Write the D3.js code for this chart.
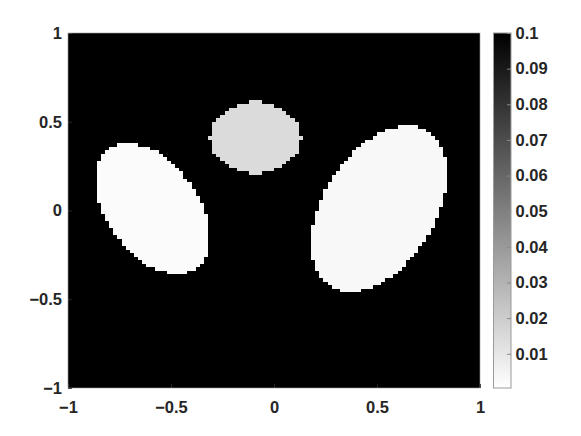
<!DOCTYPE html>
<html>
<head>
<meta charset="utf-8">
<script src="https://cdn.jsdelivr.net/npm/d3@7"></script>
<style>
  body { margin: 0; background: #fff; }
  text { font-family: "Liberation Sans", Arial, Helvetica, sans-serif; font-weight: bold; }
</style>
</head>
<body>
<svg id="my-svg"></svg>
<script>
// image grid (cells per side) and axis ticks
var gridSize = 100;
var xTicks = [-1, -0.5, 0, 0.5, 1];
var yTicks = [-1, -0.5, 0, 0.5, 1];
var cbarTicks = [0.01, 0.02, 0.03, 0.04, 0.05, 0.06, 0.07, 0.08, 0.09, 0.1];

// the three ellipses of the phantom
var ellipseCx    = [-0.09, -0.59, 0.51];
var ellipseCy    = [0.41, 0.01, 0.01];
var ellipseA     = [0.221, 0.40, 0.50];   // semi axis along rotated x
var ellipseB     = [0.201, 0.23, 0.28];   // semi axis along rotated y
var ellipseAngle = [0, -62, 65];          // degrees
var ellipseValue = [0.0145, 0.002, 0.003];

var backgroundValue = 0.1;
var valueMin = 0.0004;

var width = 581;
var height = 436;
var plot = {left: 68, right: 480, top: 33, bottom: 388};
var cbar = {left: 493.5, right: 511};

var svg = d3.select('#my-svg')
  .attr('width', width)
  .attr('height', height);

var x = d3.scaleLinear().domain([-1, 1]).range([plot.left, plot.right]);
var y = d3.scaleLinear().domain([-1, 1]).range([plot.bottom, plot.top]);
var color = d3.scaleLinear().domain([valueMin, backgroundValue]).range(['#ffffff', '#000000']);

// build the cell table
var step = 2 / gridSize;
var cells = [];
for (var j = 0; j < gridSize; j++) {
  for (var i = 0; i < gridSize; i++) {
    var cx = -1 + (i + 0.5) * step;
    var cy = 1 - (j + 0.5) * step;
    var v = backgroundValue;
    for (var k = 0; k < ellipseCx.length; k++) {
      var t = ellipseAngle[k] * Math.PI / 180;
      var dx = cx - ellipseCx[k], dy = cy - ellipseCy[k];
      var u = dx * Math.cos(t) + dy * Math.sin(t);
      var w = -dx * Math.sin(t) + dy * Math.cos(t);
      if ((u * u) / (ellipseA[k] * ellipseA[k]) + (w * w) / (ellipseB[k] * ellipseB[k]) <= 1) v = ellipseValue[k];
    }
    cells.push({x0: -1 + i * step, y0: 1 - j * step, value: v});
  }
}

svg.append('g')
    .attr('shape-rendering', 'crispEdges')
  .selectAll('rect')
  .data(cells)
  .enter().append('rect')
    .attr('x', d => x(d.x0))
    .attr('y', d => y(d.y0))
    .attr('width', x(step) - x(0))
    .attr('height', y(0) - y(step))
    .attr('fill', d => color(d.value));

// axes
var xAxis = svg.append('g')
    .attr('transform', 'translate(0,' + plot.bottom + ')')
    .call(d3.axisBottom(x).tickValues(xTicks).tickFormat(d3.format('')).tickSize(-4).tickPadding(13));
var yAxis = svg.append('g')
    .attr('transform', 'translate(' + plot.left + ',0)')
    .call(d3.axisLeft(y).tickValues(yTicks).tickFormat(d3.format('')).tickSize(-4).tickPadding(6));

[xAxis, yAxis].forEach(function(a) {
  a.select('.domain').remove();
  a.selectAll('line').attr('stroke', '#262626');
  a.selectAll('text').attr('font-size', 16.5).attr('fill', '#262626');
});

svg.append('rect')
    .attr('x', plot.left)
    .attr('y', plot.top)
    .attr('width', plot.right - plot.left)
    .attr('height', plot.bottom - plot.top)
    .attr('fill', 'none')
    .attr('stroke', '#9a9a9a')
    .attr('stroke-width', 0.6);

// colorbar
var cy = d3.scaleLinear().domain([valueMin, backgroundValue]).range([plot.bottom, plot.top]);

var grad = svg.append('defs').append('linearGradient')
    .attr('id', 'cbar-grad')
    .attr('x1', 0).attr('y1', 1).attr('x2', 0).attr('y2', 0);
grad.selectAll('stop')
  .data(color.domain())
  .enter().append('stop')
    .attr('offset', (d, i) => i)
    .attr('stop-color', d => color(d));

svg.append('rect')
    .attr('x', cbar.left)
    .attr('y', cy(backgroundValue))
    .attr('width', cbar.right - cbar.left)
    .attr('height', cy(valueMin) - cy(backgroundValue))
    .attr('fill', 'url(#cbar-grad)')
    .attr('stroke', '#9a9a9a')
    .attr('stroke-width', 1);

var cAxis = svg.append('g')
    .attr('transform', 'translate(' + cbar.right + ',0)')
    .call(d3.axisRight(cy).tickValues(cbarTicks).tickFormat(d3.format('')).tickSize(-4).tickPadding(4.5));
cAxis.select('.domain').remove();
cAxis.selectAll('line').attr('stroke', '#8a8a8a');
cAxis.selectAll('text').attr('font-size', 16.5).attr('fill', '#262626');
</script>
</body>
</html>
